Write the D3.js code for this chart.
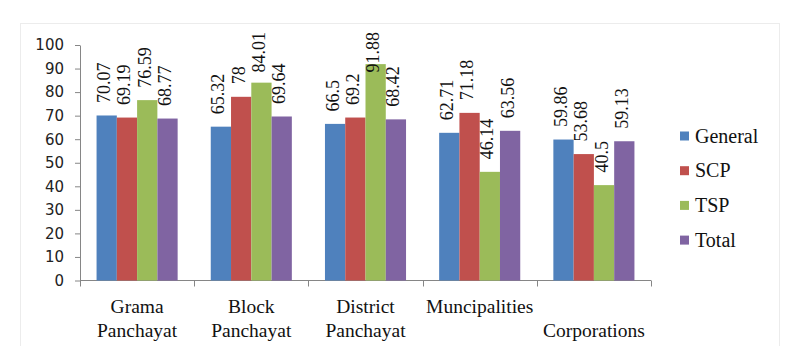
<!DOCTYPE html>
<html><head><meta charset="utf-8"><script src="https://cdn.jsdelivr.net/npm/d3@7"></script></head>
<body style="margin:0">
<svg id="chart" width="792" height="346"></svg>
<script>
// Local body types (wrapped onto two lines)
const categories = ["Grama Panchayat", "Block Panchayat", "District Panchayat", "Muncipalities", "Corporations"];
const categoryLines = [["Grama", "Panchayat"], ["Block", "Panchayat"], ["District", "Panchayat"], ["Muncipalities", ""], ["", "Corporations"]];

// Expenditure percentage by plan component
const seriesNames = ["General", "SCP", "TSP", "Total"];
const general = [70.07, 65.32, 66.5, 62.71, 59.86];
const scp     = [69.19, 78, 69.2, 71.18, 53.68];
const tsp     = [76.59, 84.01, 91.88, 46.14, 40.5];
const total   = [68.77, 69.64, 68.42, 63.56, 59.13];
const seriesValues = [general, scp, tsp, total];
const seriesColors = ["#4F81BD", "#C0504D", "#9BBB59", "#8064A2"];

const yTicks = [0, 10, 20, 30, 40, 50, 60, 70, 80, 90, 100];

const svg = d3.select("#chart");
const axisColor = "#868686";
const SERIF = "Liberation Serif";
const SANS = "DejaVu Sans";

// faint chart-area frame
svg.append("rect")
  .attr("x", 20.5).attr("y", 23.5)
  .attr("width", 759).attr("height", 330)
  .attr("fill", "none").attr("stroke", "#ececec");

const plot = { left: 80, right: 651, top: 45, bottom: 280.5 };

const y = d3.scaleLinear().domain([0, 100]).range([plot.bottom, plot.top]);
const x0 = d3.scaleBand().domain(categories).range([plot.left, plot.right]).padding(0);
const x1 = d3.scaleBand().domain(seriesNames)
  .range([x0.bandwidth() * 0.145, x0.bandwidth() * 0.855]).padding(0);

// Y axis
const yAxis = d3.axisLeft(y).tickValues(yTicks).tickSize(5).tickPadding(11).tickSizeOuter(0);
const gy = svg.append("g").attr("transform", `translate(${plot.left},0)`).call(yAxis);
gy.attr("font-family", SANS).attr("font-size", 15);
gy.select(".domain").attr("stroke", axisColor);
gy.selectAll(".tick line").attr("stroke", axisColor);
gy.selectAll(".tick text").attr("fill", "#222");

// X axis baseline with boundary ticks
const gx = svg.append("g");
gx.append("line")
  .attr("x1", plot.left).attr("x2", plot.right)
  .attr("y1", plot.bottom).attr("y2", plot.bottom)
  .attr("stroke", axisColor);
const boundaries = categories.map(c => x0(c)).concat([x0(categories[categories.length - 1]) + x0.bandwidth()]);
gx.selectAll("line.bt").data(boundaries).enter().append("line")
  .attr("class", "bt")
  .attr("x1", d => Math.round(d) + 0.5).attr("x2", d => Math.round(d) + 0.5)
  .attr("y1", plot.bottom).attr("y2", plot.bottom + 6)
  .attr("stroke", axisColor);

// Category labels
categories.forEach((c, i) => {
  const cx = x0(c) + x0.bandwidth() / 2;
  categoryLines[i].forEach((line, j) => {
    if (!line) return;
    svg.append("text")
      .attr("x", cx).attr("y", 313 + j * 24)
      .attr("text-anchor", "middle")
      .attr("font-family", SERIF)
      .attr("font-size", 19.5)
      .attr("fill", "#111")
      .text(line);
  });
});

// Bars
const groups = svg.append("g").selectAll("g")
  .data(categories).enter().append("g")
  .attr("transform", d => `translate(${x0(d)},0)`);

const cells = (d, i) => seriesNames.map((s, k) => ({ s, k, v: seriesValues[k][i] }));

groups.selectAll("rect")
  .data(cells)
  .enter().append("rect")
  .attr("x", d => x1(d.s))
  .attr("y", d => y(d.v))
  .attr("width", x1.bandwidth())
  .attr("height", d => y(0) - y(d.v))
  .attr("fill", d => seriesColors[d.k]);

// Rotated value labels; a label that would run past the frame top is pulled down
const labelSize = 18;
const frameTop = 32;
const labelLength = s => [...s].reduce((a, ch) => a + (ch === "." ? 0.25 : 0.5), 0) * labelSize;
groups.selectAll("text")
  .data(cells)
  .enter().append("text")
  .attr("font-family", SERIF)
  .attr("font-size", labelSize)
  .attr("fill", "#111")
  .attr("transform", d => {
    const len = labelLength(String(d.v));
    let start = y(d.v) - 12.5;
    if (start - len < frameTop) start = frameTop + len;
    return `translate(${x1(d.s) + x1.bandwidth() / 2 + 3.5},${start}) rotate(-90)`;
  })
  .text(d => String(d.v));

// Legend
seriesNames.forEach((s, k) => {
  const cy = 136 + k * 34.7;
  svg.append("rect")
    .attr("x", 680).attr("y", cy - 4.5)
    .attr("width", 9).attr("height", 9)
    .attr("fill", seriesColors[k]);
  svg.append("text")
    .attr("x", 695).attr("y", cy + 6.5)
    .attr("font-family", SERIF)
    .attr("font-size", 20)
    .attr("fill", "#111")
    .text(s);
});
</script></body></html>
